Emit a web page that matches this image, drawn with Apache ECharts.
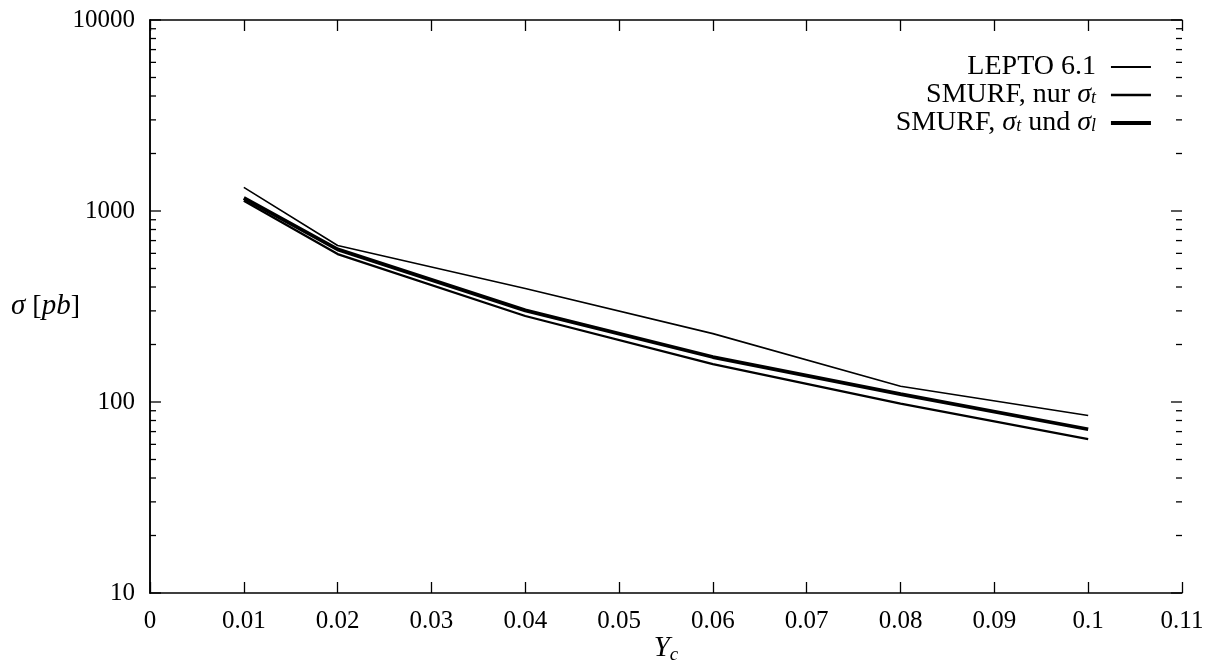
<!DOCTYPE html>
<html><head><meta charset="utf-8">
<script src="https://cdn.jsdelivr.net/npm/echarts@6/dist/echarts.min.js"></script>
<style>html,body{margin:0;padding:0;background:#fff}#c{width:1213px;height:666px}</style>
</head><body><div id="c"></div>
<script>
const xValues = [0.01, 0.02, 0.04, 0.06, 0.08, 0.1];
const lepto = [1330, 660, 393, 228, 121, 85];
const smurfT = [1130, 595, 282, 158, 98, 64];
const smurfTL = [1170, 630, 302, 172, 110, 72];
const yMajorTicks = [10, 100, 1000, 10000];
const yMinorTicks = [20,30,40,50,60,70,80,90,200,300,400,500,600,700,800,900,2000,3000,4000,5000,6000,7000,8000,9000];
const seriesNames = ['LEPTO 6.1', 'SMURF, nur σt', 'SMURF, σt und σl'];

const FONT = 'Liberation Serif';
const WIDTHS = [1.6, 2.3, 3.8];
const chart = echarts.init(document.getElementById('c'));
const pair = (vals) => xValues.map((x, i) => [x, vals[i]]);
const legendFmt = {
  'LEPTO 6.1': 'LEPTO 6.1',
  'SMURF, nur σt': 'SMURF, nur {i|σ}{s|t}',
  'SMURF, σt und σl': 'SMURF, {i|σ}{s|t} und {i|σ}{s|l}'
};
const tickSeries = (name, vals, len) => ({
  name, type: 'custom', silent: true, clip: false,
  data: vals.map(v => [0, v]),
  renderItem: (params, api) => {
    const v = api.value(1);
    const l = api.coord([0, v]);
    const r = api.coord([0.11, v]);
    const st = {stroke: '#000', lineWidth: 1.3};
    return {type: 'group', children: [
      {type: 'line', shape: {x1: l[0], y1: l[1], x2: l[0] + len, y2: l[1]}, style: st},
      {type: 'line', shape: {x1: r[0] - len, y1: r[1], x2: r[0], y2: r[1]}, style: st}
    ]};
  }
});
chart.setOption({
  animation: false,
  backgroundColor: '#fff',
  grid: {left: 150, right: 31, top: 20, bottom: 73, outerBoundsMode: 'none', containLabel: false},
  legend: {
    orient: 'vertical', right: 55, top: 48, align: 'right',
    itemWidth: 40, itemHeight: 12, itemGap: 0,
    data: seriesNames.map((n, i) => ({name: n, lineStyle: {color: '#000', width: WIDTHS[i] + 0.3}})),
    itemStyle: {opacity: 0},
    formatter: n => legendFmt[n],
    textStyle: {
      fontFamily: FONT, fontSize: 28, color: '#000', width: 300, align: 'right', lineHeight: 25,
      padding: [0, 10, 0, 0],
      rich: {
        i: {fontFamily: FONT, fontStyle: 'italic', fontSize: 28, color: '#000'},
        s: {fontFamily: FONT, fontStyle: 'italic', fontSize: 18, color: '#000', verticalAlign: 'bottom', padding: [10, 0, 0, 0]}
      }
    }
  },
  xAxis: [{
    type: 'value', min: 0, max: 0.11, interval: 0.01,
    name: '{i|Y}{s|c}', nameLocation: 'middle', nameGap: 40, nameMoveOverlap: false,
    nameTextStyle: {fontFamily: FONT, fontSize: 28, color: '#000',
      rich: {i: {fontFamily: FONT, fontStyle: 'italic', fontSize: 29, color: '#000'},
             s: {fontFamily: FONT, fontStyle: 'italic', fontSize: 19, color: '#000', verticalAlign: 'bottom', padding: [12, 0, 0, 0]}}},
    axisLine: {lineStyle: {color: '#000', width: 1.5}},
    axisTick: {inside: true, length: 11, lineStyle: {color: '#000', width: 1.3}},
    axisLabel: {margin: 16, fontFamily: FONT, fontSize: 25, color: '#000',
      formatter: v => String(parseFloat(v.toFixed(2)))},
    splitLine: {show: false}
  }, {
    type: 'value', position: 'top', min: 0, max: 0.11, interval: 0.01,
    axisLine: {lineStyle: {color: '#000', width: 1.5}},
    axisTick: {inside: true, length: 11, lineStyle: {color: '#000', width: 1.3}},
    axisLabel: {show: false}, splitLine: {show: false}
  }],
  yAxis: [{
    type: 'log', logBase: 10, min: 10, max: 10000,
    name: '{i|σ} [{i|pb}]', nameLocation: 'middle', nameGap: 70, nameRotate: 0, nameMoveOverlap: false,
    nameTextStyle: {fontFamily: FONT, fontSize: 28, color: '#000',
      rich: {i: {fontFamily: FONT, fontStyle: 'italic', fontSize: 29, color: '#000'}}},
    axisLine: {show: true, lineStyle: {color: '#000', width: 1.5}},
    axisTick: {show: false},
    axisLabel: {margin: 15, fontFamily: FONT, fontSize: 25, color: '#000', formatter: v => String(Math.round(v))},
    minorTick: {show: false},
    splitLine: {show: false}
  }, {
    type: 'log', logBase: 10, min: 10, max: 10000, position: 'right',
    axisLine: {show: true, lineStyle: {color: '#000', width: 1.5}},
    axisTick: {show: false},
    axisLabel: {show: false}, splitLine: {show: false}
  }],
  series: [
    {name: seriesNames[0], type: 'line', data: pair(lepto), symbol: 'none',
     lineStyle: {color: '#000', width: WIDTHS[0]}, itemStyle: {color: '#000'}},
    {name: seriesNames[1], type: 'line', data: pair(smurfT), symbol: 'none',
     lineStyle: {color: '#000', width: WIDTHS[1]}, itemStyle: {color: '#000'}},
    {name: seriesNames[2], type: 'line', data: pair(smurfTL), symbol: 'none',
     lineStyle: {color: '#000', width: WIDTHS[2]}, itemStyle: {color: '#000'}},
    tickSeries('major', yMajorTicks, 11),
    tickSeries('minor', yMinorTicks, 6)
  ]
});
</script></body></html>
